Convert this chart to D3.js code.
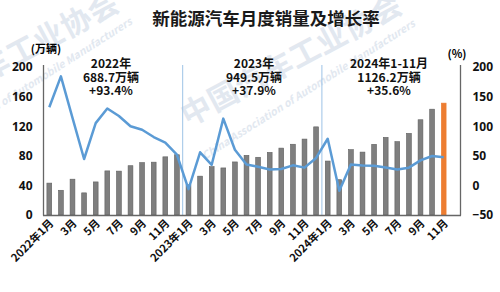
<!DOCTYPE html>
<html>
<head>
<meta charset="utf-8">
<script src="https://cdn.jsdelivr.net/npm/d3@7"></script>
<style>
  body { margin: 0; background: #fff; }
  svg { display: block; font-family: "Noto Sans CJK SC", "Noto Sans", sans-serif; }
</style>
</head>
<body>
<svg id="chart" width="500" height="292"></svg>
<script>
// months 2022-01 .. 2024-11
const months = [];
[2022, 2023, 2024].forEach(y => {
    for (let m = 1; m <= 12; m++) {
        if (y === 2024 && m > 11) break;
        months.push(y + "-" + m);
    }
});

// sales, 万辆
const sales2022 = [43.1, 33.4, 48.4, 29.9, 44.7, 59.6, 59.3, 66.6, 70.8, 71.4, 78.6, 81.4];
const sales2023 = [40.8, 52.5, 65.3, 63.6, 71.7, 80.6, 78.0, 84.6, 90.4, 95.6, 102.6, 119.1];
const sales2024 = [72.9, 47.7, 88.3, 85.0, 95.5, 104.9, 99.1, 110.3, 128.7, 143.0, 151.2];

// year-on-year growth, %
const growth2022 = [132.1, 184.1, 114.0, 44.6, 105.2, 130.0, 117.3, 100.0, 93.9, 81.7, 72.3, 51.8];
const growth2023 = [-6.3, 55.9, 34.8, 112.8, 60.2, 35.2, 31.6, 27.0, 27.7, 33.9, 30.0, 46.4];
const growth2024 = [78.8, -9.2, 35.3, 33.5, 33.3, 30.1, 27.0, 30.0, 42.3, 49.6, 47.7];

const leftTicks = [0, 40, 80, 120, 160, 200];
const rightTicks = [-50, 0, 50, 100, 150, 200];

const yearNotes = [
    { x: 111, lines: ["2022年", "688.7万辆", "+93.4%"] },
    { x: 254, lines: ["2023年", "949.5万辆", "+37.9%"] },
    { x: 389, lines: ["2024年1-11月", "1126.2万辆", "+35.6%"] }
];

const sales = sales2022.concat(sales2023, sales2024);
const growth = growth2022.concat(growth2023, growth2024);
const data = months.map((k, i) => ({ key: k, sales: sales[i], growth: growth[i] }));

function monthLabel(k) {
    const [y, m] = k.split("-");
    return m === "1" ? y + "年1月" : m + "月";
}

const svg = d3.select("#chart");

// faint watermark (two copies)
const wm = svg.append("g").attr("fill", "#e2e8f0").attr("font-weight", "bold");
[[0, 0], [-283, -2]].forEach(([dx, dy]) => {
    wm.append("text")
        .attr("transform", `translate(${188 + dx},${127 + dy}) rotate(-28)`)
        .attr("font-size", 30).attr("textLength", 245)
        .text("中国汽车工业协会");
    wm.append("text")
        .attr("transform", `translate(${205 + dx},${160 + dy}) rotate(-32.5)`)
        .attr("font-size", 10.5).attr("font-style", "italic").attr("textLength", 250)
        .text("China Association of Automobile Manufacturers");
});

const x = d3.scaleBand()
    .domain(months)
    .range([43.5, 449.5])
    .padding(0);

const yL = d3.scaleLinear().domain([0, 200]).range([215, 67]);
const yR = d3.scaleLinear().domain([-50, 200]).range([215, 67]);

const cx = k => x(k) + x.bandwidth() / 2;

// title
svg.append("text")
    .attr("x", 266).attr("y", 25)
    .attr("text-anchor", "middle")
    .attr("font-size", 17.5).attr("font-weight", "bold")
    .attr("fill", "#1a1a1a")
    .text("新能源汽车月度销量及增长率");

// unit labels
svg.append("text").attr("x", 46).attr("y", 53).attr("text-anchor", "middle")
    .attr("font-size", 11).attr("font-weight", "bold").text("(万辆)");
svg.append("text").attr("x", 457).attr("y", 58).attr("text-anchor", "middle")
    .attr("font-size", 11).attr("font-weight", "bold").text("(%)");

// year separators
["2023-1", "2024-1"].forEach(k => {
    const sx = x(k);
    svg.append("line")
        .attr("x1", sx).attr("x2", sx).attr("y1", 65).attr("y2", 215)
        .attr("stroke", "#9dc3e6").attr("stroke-width", 1);
});

// bars
svg.append("g").selectAll("rect")
    .data(data)
    .join("rect")
    .attr("x", d => cx(d.key) - 2.4)
    .attr("width", 4.8)
    .attr("y", d => yL(d.sales))
    .attr("height", d => yL(0) - yL(d.sales))
    .attr("fill", (d, i) => i === data.length - 1 ? "#ed7d31" : "#7f7f7f")
    .attr("stroke", (d, i) => i === data.length - 1 ? "#ed7d31" : "#606060")
    .attr("stroke-width", 0.6);

// growth line
const line = d3.line()
    .x(d => cx(d.key))
    .y(d => yR(d.growth));

svg.append("path")
    .datum(data)
    .attr("d", line)
    .attr("fill", "none")
    .attr("stroke", "#5b9bd5")
    .attr("stroke-width", 2.5)
    .attr("stroke-linejoin", "round");

// frame lines
svg.append("line").attr("x1", 43.5).attr("x2", 43.5).attr("y1", 65).attr("y2", 215.5)
    .attr("stroke", "#666").attr("stroke-width", 1.3);
svg.append("line").attr("x1", 460.5).attr("x2", 460.5).attr("y1", 65).attr("y2", 215.5)
    .attr("stroke", "#666").attr("stroke-width", 1.3);
svg.append("line").attr("x1", 43).attr("x2", 461).attr("y1", 215.5).attr("y2", 215.5)
    .attr("stroke", "#666").attr("stroke-width", 1.3);

// left axis labels
const leftAxis = d3.axisLeft(yL).tickValues(leftTicks).tickSize(0).tickPadding(11);
svg.append("g").attr("transform", "translate(43.5,0)").call(leftAxis)
    .call(g => g.select(".domain").remove())
    .selectAll("text")
    .attr("font-size", 12).attr("font-weight", "bold").attr("fill", "#111")
    .attr("font-family", "'Noto Sans', sans-serif");

// right axis labels
const rightAxis = d3.axisRight(yR).tickValues(rightTicks).tickSize(0).tickPadding(12);
svg.append("g").attr("transform", "translate(460.5,0)").call(rightAxis)
    .call(g => g.select(".domain").remove())
    .selectAll("text")
    .attr("font-size", 12).attr("font-weight", "bold").attr("fill", "#111")
    .attr("font-family", "'Noto Sans', sans-serif");

// x labels, odd months
svg.append("g").selectAll("text")
    .data(months.filter(k => +k.split("-")[1] % 2 === 1))
    .join("text")
    .attr("transform", k => `translate(${cx(k) + 5},${224}) rotate(-45)`)
    .attr("text-anchor", "end")
    .attr("font-size", 11).attr("font-weight", "bold").attr("fill", "#111")
    .text(monthLabel);

// yearly notes
yearNotes.forEach(n => {
    const t = svg.append("text")
        .attr("text-anchor", "middle")
        .attr("font-size", 12).attr("font-weight", "bold").attr("fill", "#111");
    n.lines.forEach((s, i) => {
        t.append("tspan")
            .attr("x", n.x)
            .attr("y", 68 + i * 13.5)
            .text(s);
    });
});
</script>
</body>
</html>
